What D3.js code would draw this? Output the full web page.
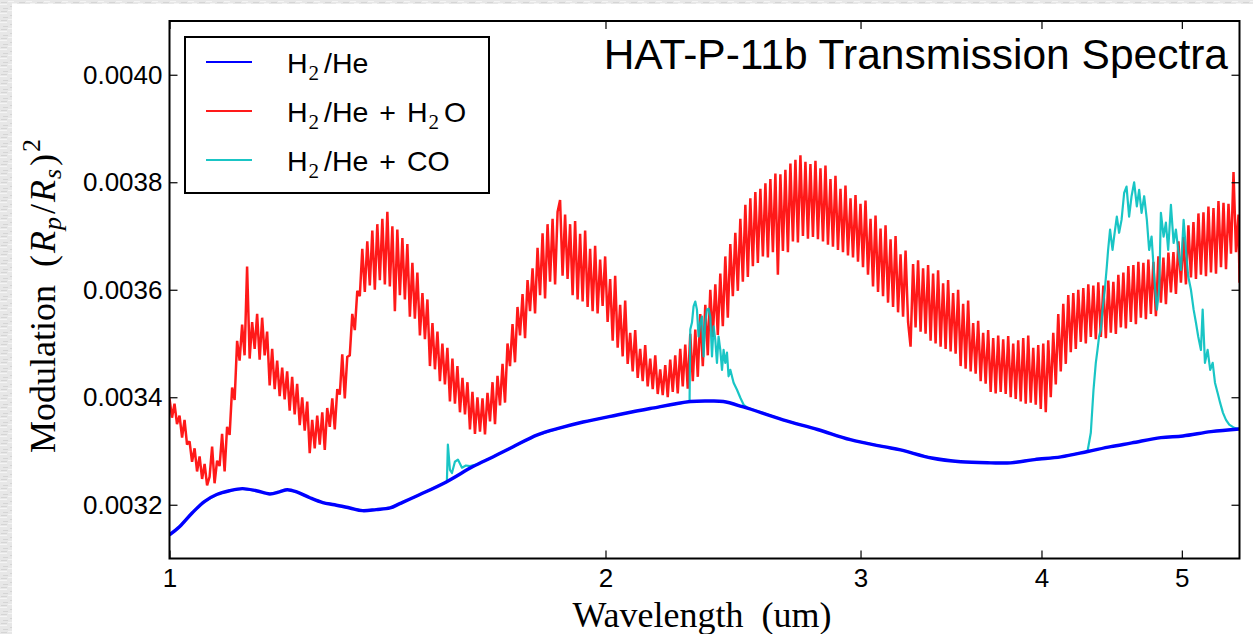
<!DOCTYPE html>
<html>
<head>
<meta charset="utf-8">
<script src="https://cdn.jsdelivr.net/npm/d3@7"></script>
<style>
  html, body { margin: 0; padding: 0; background: #ffffff; }
  svg { display: block; }
  text { white-space: pre; }
</style>
</head>
<body>
<svg id="chart" width="1253" height="634"></svg>
<script>
// ---- Data -------------------------------------------------------------
const wavelengthTicks = [1, 2, 3, 4, 5];
const depthTicks = [0.0032, 0.0034, 0.0036, 0.0038, 0.0040];
const titleText = "HAT-P-11b Transmission Spectra";

// Clear H2/He atmosphere (smooth continuum)
const h2heWave = [1.000, 1.016, 1.037, 1.057, 1.078, 1.100, 1.123, 1.148, 1.173, 1.191,
  1.206, 1.224, 1.250, 1.276, 1.300, 1.332, 1.359, 1.389, 1.420, 1.442,
  1.489, 1.554, 1.620, 1.672, 1.727, 1.795, 1.861, 1.930, 2.037, 2.147,
  2.289, 2.363, 2.412, 2.490, 2.652, 2.802, 2.952, 3.112, 3.197, 3.359,
  3.518, 3.690, 3.809, 3.956, 4.125, 4.305, 4.466, 4.618, 4.836, 5.009,
  5.237, 5.480];
const h2heDepth = [0.003144, 0.003159, 0.003185, 0.003206, 0.003219, 0.003226, 0.003230, 0.003226, 0.003220, 0.003224,
  0.003228, 0.003224, 0.003213, 0.003204, 0.003200, 0.003194, 0.003189, 0.003191, 0.003194, 0.003202,
  0.003219, 0.003243, 0.003271, 0.003289, 0.003308, 0.003330, 0.003343, 0.003354, 0.003367, 0.003379,
  0.003392, 0.003393, 0.003392, 0.003382, 0.003358, 0.003340, 0.003321, 0.003308, 0.003302, 0.003287,
  0.003280, 0.003278, 0.003278, 0.003284, 0.003289, 0.003299, 0.003308, 0.003315, 0.003325, 0.003328,
  0.003336, 0.003341];

// H2/He + H2O (high resolution spectrum)
const h2oWave = [
  1.0000, 1.0040, 1.0080, 1.0120, 1.0161, 1.0202, 1.0242, 1.0283, 1.0324, 1.0365, 1.0407, 1.0448,
  1.0490, 1.0532, 1.0574, 1.0616, 1.0658, 1.0701, 1.0743, 1.0786, 1.0829, 1.0872, 1.0916, 1.0959,
  1.1003, 1.1047, 1.1091, 1.1135, 1.1179, 1.1224, 1.1268, 1.1313, 1.1359, 1.1404, 1.1450, 1.1495,
  1.1541, 1.1587, 1.1633, 1.1679, 1.1726, 1.1773, 1.1820, 1.1867, 1.1914, 1.1962, 1.2009, 1.2057,
  1.2105, 1.2153, 1.2202, 1.2250, 1.2300, 1.2349, 1.2398, 1.2448, 1.2497, 1.2547, 1.2597, 1.2647,
  1.2698, 1.2749, 1.2800, 1.2850, 1.2902, 1.2954, 1.3005, 1.3057, 1.3109, 1.3161, 1.3214, 1.3266,
  1.3319, 1.3372, 1.3426, 1.3479, 1.3533, 1.3587, 1.3641, 1.3695, 1.3750, 1.3805, 1.3860, 1.3915,
  1.3971, 1.4027, 1.4083, 1.4139, 1.4195, 1.4252, 1.4309, 1.4365, 1.4423, 1.4481, 1.4538, 1.4596,
  1.4654, 1.4713, 1.4771, 1.4830, 1.4890, 1.4950, 1.5009, 1.5069, 1.5129, 1.5190, 1.5250, 1.5311,
  1.5371, 1.5432, 1.5494, 1.5555, 1.5618, 1.5680, 1.5743, 1.5805, 1.5869, 1.5932, 1.5996, 1.6059,
  1.6123, 1.6187, 1.6252, 1.6316, 1.6382, 1.6448, 1.6513, 1.6579, 1.6645, 1.6712, 1.6778, 1.6845,
  1.6912, 1.6980, 1.7047, 1.7115, 1.7183, 1.7252, 1.7320, 1.7389, 1.7459, 1.7529, 1.7599, 1.7669,
  1.7739, 1.7810, 1.7881, 1.7952, 1.8024, 1.8096, 1.8168, 1.8240, 1.8313, 1.8386, 1.8460, 1.8533,
  1.8607, 1.8681, 1.8756, 1.8830, 1.8906, 1.8982, 1.9057, 1.9133, 1.9209, 1.9286, 1.9363, 1.9440,
  1.9517, 1.9595, 1.9673, 1.9751, 1.9830, 1.9909, 1.9989, 2.0068, 2.0149, 2.0230, 2.0310, 2.0391,
  2.0472, 2.0554, 2.0636, 2.0718, 2.0801, 2.0884, 2.0967, 2.1051, 2.1134, 2.1219, 2.1303, 2.1388,
  2.1474, 2.1560, 2.1646, 2.1732, 2.1818, 2.1905, 2.1993, 2.2080, 2.2168, 2.2257, 2.2345, 2.2434,
  2.2524, 2.2614, 2.2704, 2.2794, 2.2886, 2.2978, 2.3069, 2.3161, 2.3253, 2.3346, 2.3439, 2.3532,
  2.3626, 2.3721, 2.3815, 2.3910, 2.4005, 2.4101, 2.4197, 2.4293, 2.4390, 2.4488, 2.4585, 2.4683,
  2.4782, 2.4881, 2.4980, 2.5079, 2.5179, 2.5280, 2.5380, 2.5481, 2.5584, 2.5686, 2.5789, 2.5891,
  2.5994, 2.6098, 2.6202, 2.6306, 2.6411, 2.6517, 2.6622, 2.6728, 2.6835, 2.6942, 2.7050, 2.7157,
  2.7266, 2.7375, 2.7484, 2.7593, 2.7703, 2.7814, 2.7925, 2.8035, 2.8148, 2.8261, 2.8373, 2.8486,
  2.8599, 2.8713, 2.8828, 2.8942, 2.9058, 2.9174, 2.9290, 2.9407, 2.9525, 2.9643, 2.9761, 2.9879,
  2.9998, 3.0118, 3.0238, 3.0358, 3.0480, 3.0602, 3.0724, 3.0846, 3.0969, 3.1093, 3.1217, 3.1341,
  3.1466, 3.1592, 3.1718, 3.1844, 3.1971, 3.2099, 3.2227, 3.2355, 3.2484, 3.2614, 3.2744, 3.2874,
  3.3005, 3.3137, 3.3269, 3.3401, 3.3535, 3.3669, 3.3803, 3.3937, 3.4073, 3.4209, 3.4346, 3.4482,
  3.4620, 3.4758, 3.4897, 3.5035, 3.5175, 3.5316, 3.5456, 3.5597, 3.5740, 3.5883, 3.6026, 3.6169,
  3.6313, 3.6458, 3.6604, 3.6749, 3.6896, 3.7044, 3.7191, 3.7339, 3.7488, 3.7638, 3.7788, 3.7938,
  3.8090, 3.8242, 3.8395, 3.8547, 3.8701, 3.8856, 3.9011, 3.9165, 3.9322, 3.9479, 3.9637, 3.9794,
  3.9953, 4.0113, 4.0273, 4.0432, 4.0594, 4.0756, 4.0919, 4.1081, 4.1245, 4.1410, 4.1575, 4.1740,
  4.1907, 4.2075, 4.2242, 4.2410, 4.2580, 4.2750, 4.2921, 4.3091, 4.3263, 4.3436, 4.3609, 4.3782,
  4.3957, 4.4133, 4.4309, 4.4484, 4.4663, 4.4842, 4.5020, 4.5199, 4.5379, 4.5561, 4.5742, 4.5924,
  4.6107, 4.6291, 4.6476, 4.6660, 4.6847, 4.7034, 4.7222, 4.7409, 4.7599, 4.7789, 4.7980, 4.8170,
  4.8363, 4.8556, 4.8750, 4.8943, 4.9139, 4.9336, 4.9532, 4.9729, 4.9927, 5.0127, 5.0326, 5.0526,
  5.0728, 5.0931, 5.1134, 5.1337, 5.1542, 5.1748, 5.1954, 5.2160, 5.2370, 5.2579, 5.2789, 5.2998,
  5.3210, 5.3423, 5.3636, 5.3849, 5.4064, 5.4280, 5.4497, 5.4713, 5.4800];
const h2oDepth = [
  0.003398, 0.003362, 0.003388, 0.003350, 0.003366, 0.003325, 0.003358, 0.003312, 0.003318, 0.003280, 0.003305, 0.003262,
  0.003290, 0.003248, 0.003276, 0.003236, 0.003252, 0.003308, 0.003240, 0.003282, 0.003272, 0.003332, 0.003262, 0.003345,
  0.003330, 0.003418, 0.003395, 0.003505, 0.003468, 0.003535, 0.003478, 0.003643, 0.003472, 0.003540, 0.003490, 0.003555,
  0.003470, 0.003548, 0.003478, 0.003522, 0.003422, 0.003490, 0.003415, 0.003468, 0.003402, 0.003455, 0.003396, 0.003448,
  0.003375, 0.003438, 0.003368, 0.003425, 0.003348, 0.003400, 0.003338, 0.003392, 0.003296, 0.003358, 0.003305, 0.003366,
  0.003312, 0.003372, 0.003302, 0.003380, 0.003345, 0.003398, 0.003340, 0.003415, 0.003405, 0.003480, 0.003398, 0.003475,
  0.003478, 0.003555, 0.003525, 0.003598, 0.003588, 0.003676, 0.003596, 0.003690, 0.003608, 0.003710, 0.003600, 0.003722,
  0.003618, 0.003732, 0.003610, 0.003745, 0.003606, 0.003718, 0.003560, 0.003712, 0.003590, 0.003696, 0.003582, 0.003685,
  0.003550, 0.003650, 0.003546, 0.003632, 0.003515, 0.003594, 0.003508, 0.003582, 0.003458, 0.003538, 0.003452, 0.003522,
  0.003430, 0.003500, 0.003424, 0.003492, 0.003392, 0.003472, 0.003388, 0.003458, 0.003372, 0.003436, 0.003368, 0.003428,
  0.003340, 0.003410, 0.003332, 0.003400, 0.003336, 0.003398, 0.003331, 0.003408, 0.003355, 0.003428, 0.003350, 0.003440,
  0.003385, 0.003462, 0.003390, 0.003500, 0.003458, 0.003536, 0.003465, 0.003568, 0.003515, 0.003592, 0.003510, 0.003618,
  0.003560, 0.003640, 0.003556, 0.003678, 0.003590, 0.003705, 0.003584, 0.003722, 0.003615, 0.003732, 0.003610, 0.003745,
  0.003767, 0.003626, 0.003740, 0.003620, 0.003722, 0.003590, 0.003728, 0.003582, 0.003704, 0.003578, 0.003710, 0.003568,
  0.003676, 0.003560, 0.003682, 0.003556, 0.003656, 0.003570, 0.003662, 0.003540, 0.003620, 0.003505, 0.003626, 0.003492,
  0.003572, 0.003476, 0.003580, 0.003462, 0.003520, 0.003448, 0.003525, 0.003436, 0.003490, 0.003430, 0.003497, 0.003420,
  0.003472, 0.003415, 0.003478, 0.003406, 0.003452, 0.003404, 0.003460, 0.003400, 0.003470, 0.003410, 0.003478, 0.003407,
  0.003490, 0.003420, 0.003498, 0.003416, 0.003518, 0.003430, 0.003526, 0.003438, 0.003555, 0.003458, 0.003572, 0.003478,
  0.003600, 0.003512, 0.003610, 0.003516, 0.003630, 0.003532, 0.003662, 0.003548, 0.003685, 0.003588, 0.003706, 0.003598,
  0.003732, 0.003615, 0.003758, 0.003624, 0.003770, 0.003644, 0.003782, 0.003650, 0.003788, 0.003662, 0.003798, 0.003660,
  0.003806, 0.003670, 0.003816, 0.003628, 0.003815, 0.003672, 0.003823, 0.003670, 0.003835, 0.003690, 0.003842, 0.003688,
  0.003850, 0.003700, 0.003838, 0.003695, 0.003834, 0.003698, 0.003840, 0.003694, 0.003826, 0.003690, 0.003831, 0.003684,
  0.003806, 0.003680, 0.003812, 0.003674, 0.003788, 0.003670, 0.003794, 0.003664, 0.003770, 0.003660, 0.003776, 0.003652,
  0.003760, 0.003642, 0.003766, 0.003628, 0.003732, 0.003606, 0.003738, 0.003596, 0.003714, 0.003588, 0.003720, 0.003576,
  0.003694, 0.003568, 0.003700, 0.003558, 0.003666, 0.003550, 0.003673, 0.003540, 0.003494, 0.003648, 0.003530, 0.003655,
  0.003522, 0.003640, 0.003518, 0.003646, 0.003505, 0.003630, 0.003500, 0.003636, 0.003494, 0.003612, 0.003490, 0.003618,
  0.003485, 0.003594, 0.003481, 0.003600, 0.003458, 0.003574, 0.003453, 0.003580, 0.003448, 0.003538, 0.003444, 0.003542,
  0.003430, 0.003520, 0.003425, 0.003525, 0.003410, 0.003510, 0.003407, 0.003515, 0.003410, 0.003508, 0.003406, 0.003514,
  0.003400, 0.003500, 0.003397, 0.003506, 0.003392, 0.003510, 0.003388, 0.003515, 0.003390, 0.003492, 0.003386, 0.003497,
  0.003378, 0.003500, 0.003372, 0.003506, 0.003400, 0.003520, 0.003424, 0.003555, 0.003448, 0.003574, 0.003462, 0.003590,
  0.003484, 0.003594, 0.003490, 0.003600, 0.003503, 0.003603, 0.003500, 0.003610, 0.003512, 0.003608, 0.003508, 0.003614,
  0.003512, 0.003608, 0.003510, 0.003617, 0.003520, 0.003615, 0.003518, 0.003628, 0.003530, 0.003632, 0.003528, 0.003644,
  0.003540, 0.003646, 0.003536, 0.003652, 0.003548, 0.003650, 0.003545, 0.003656, 0.003555, 0.003652, 0.003551, 0.003662,
  0.003576, 0.003660, 0.003573, 0.003669, 0.003595, 0.003670, 0.003592, 0.003690, 0.003613, 0.003698, 0.003610, 0.003720,
  0.003623, 0.003726, 0.003620, 0.003742, 0.003628, 0.003744, 0.003625, 0.003755, 0.003632, 0.003752, 0.003630, 0.003765,
  0.003642, 0.003762, 0.003638, 0.003760, 0.003667, 0.003819, 0.003670, 0.003740, 0.003613];

// H2/He + CO (follows the continuum outside the CO bands)
const coWave = [1.000, 1.016, 1.037, 1.057, 1.078, 1.100, 1.123, 1.148, 1.173, 1.191,
  1.206, 1.224, 1.250, 1.276, 1.300, 1.332, 1.359, 1.389, 1.420, 1.442, 1.489,
  1.5543, 1.5567, 1.5618, 1.5668, 1.5742, 1.5817, 1.5920, 1.6021, 1.6123, 1.6303,
  1.672, 1.727, 1.795, 1.861, 1.930, 2.037, 2.147,
  2.2860, 2.2886, 2.2948, 2.3006, 2.3068, 2.3130, 2.3189, 2.3253, 2.3316, 2.3375,
  2.3438, 2.3501, 2.3561, 2.3626, 2.3690, 2.3750, 2.3814, 2.3878, 2.3939, 2.4005,
  2.4070, 2.4131, 2.4196, 2.4261, 2.4323, 2.4390, 2.4518, 2.4650, 2.4782, 2.4912, 2.5047,
  2.652, 2.802, 2.952, 3.112, 3.197, 3.359, 3.518, 3.690, 3.809, 3.956, 4.125,
  4.3035, 4.3263, 4.3449, 4.3608, 4.3725, 4.3835, 4.3957, 4.4076, 4.4237, 4.4377,
  4.4469, 4.4608, 4.4784, 4.4898, 4.5090, 4.5254, 4.5430, 4.5618, 4.5792, 4.5979,
  4.6159, 4.6350, 4.6548, 4.6717, 4.6899, 4.7093, 4.7295, 4.7467, 4.7652, 4.7849,
  4.8054, 4.8229, 4.8363, 4.8571, 4.8748, 4.8926, 4.9139, 4.9350, 4.9531, 4.9711,
  4.9927, 5.0142, 5.0325, 5.0508, 5.0728, 5.0946, 5.1132, 5.1318, 5.1542, 5.1682,
  5.1871, 5.2092, 5.2306, 5.2512, 5.2704, 5.2929, 5.3146, 5.3380, 5.3634, 5.3914,
  5.4348, 5.4779];
const coDepth = [0.003144, 0.003159, 0.003185, 0.003206, 0.003219, 0.003226, 0.003230, 0.003226, 0.003220, 0.003224,
  0.003228, 0.003224, 0.003213, 0.003204, 0.003200, 0.003194, 0.003189, 0.003191, 0.003194, 0.003202, 0.003219,
  0.003243, 0.003312, 0.003265, 0.003259, 0.003280, 0.003284, 0.003269, 0.003273, 0.003272, 0.003275,
  0.003289, 0.003308, 0.003330, 0.003343, 0.003354, 0.003367, 0.003379,
  0.003392, 0.003526, 0.003539, 0.003569, 0.003578, 0.003563, 0.003513, 0.003539, 0.003550, 0.003476,
  0.003539, 0.003563, 0.003565, 0.003550, 0.003476, 0.003532, 0.003507, 0.003464, 0.003513, 0.003488,
  0.003451, 0.003488, 0.003464, 0.003483, 0.003439, 0.003451, 0.003427, 0.003414, 0.003399, 0.003386, 0.003381,
  0.003358, 0.003340, 0.003321, 0.003308, 0.003302, 0.003287, 0.003280, 0.003278, 0.003278, 0.003284, 0.003289,
  0.003299, 0.003334, 0.003414, 0.003464, 0.003488, 0.003513, 0.003526, 0.003563, 0.003600, 0.003643,
  0.003674, 0.003712, 0.003674, 0.003699, 0.003736, 0.003706, 0.003730, 0.003780, 0.003792, 0.003736,
  0.003774, 0.003800, 0.003755, 0.003786, 0.003743, 0.003774, 0.003730, 0.003674, 0.003699, 0.003625,
  0.003563, 0.003600, 0.003743, 0.003699, 0.003725, 0.003674, 0.003758, 0.003687, 0.003712, 0.003674,
  0.003637, 0.003730, 0.003674, 0.003625, 0.003600, 0.003563, 0.003539, 0.003513, 0.003488, 0.003563,
  0.003464, 0.003488, 0.003451, 0.003464, 0.003427, 0.003408, 0.003389, 0.003371, 0.003358, 0.003349,
  0.003343, 0.003341];

const legendRows = [
  { color: "#0000ff", parts: [["H"], ["2", "sub"], ["/He"]] },
  { color: "#ff1a1a", parts: [["H"], ["2", "sub"], ["/He + H"], ["2", "sub"], ["O"]] },
  { color: "#1ac5c5", parts: [["H"], ["2", "sub"], ["/He + CO"]] }
];

// ---- Layout -----------------------------------------------------------
const W = 1253, H = 634;
const plot = { left: 169.5, right: 1239.5, top: 21, bottom: 558.5 };
const SANS = "'Liberation Sans', Arial, Helvetica, sans-serif";
const SERIF = "'Liberation Serif', 'Times New Roman', serif";

const svg = d3.select("#chart");
const defs = svg.append("defs");

// paper-like strip along the left and top edges
const pat = defs.append("pattern").attr("id", "paper")
  .attr("patternUnits", "userSpaceOnUse").attr("width", 18).attr("height", 9);
pat.append("rect").attr("width", 18).attr("height", 9).attr("fill", "#e7e7e7");
pat.append("path").attr("d", "M1 2.5h6M10 6.5h7M3 8.5h5")
  .attr("stroke", "#d5d5d5").attr("stroke-width", 1);
pat.append("path").attr("d", "M8 1.5h6M0 4.5h7M12 3.5h5")
  .attr("stroke", "#f4f4f4").attr("stroke-width", 1);
svg.append("rect").attr("x", 0).attr("y", 0).attr("width", W).attr("height", H).attr("fill", "#ffffff");
svg.append("rect").attr("x", 0).attr("y", 0).attr("width", 12).attr("height", H).attr("fill", "url(#paper)");
svg.append("rect").attr("x", 0).attr("y", 0).attr("width", W).attr("height", 4).attr("fill", "url(#paper)");

defs.append("clipPath").attr("id", "plotClip").append("rect")
  .attr("x", plot.left).attr("y", plot.top)
  .attr("width", plot.right - plot.left).attr("height", plot.bottom - plot.top);

const x = d3.scaleLog().domain([1, 5.48]).range([plot.left, plot.right]);
const y = d3.scaleLinear().domain([0.0031, 0.0041]).range([plot.bottom, plot.top]);

svg.append("rect").attr("x", plot.left).attr("y", plot.top)
  .attr("width", plot.right - plot.left).attr("height", plot.bottom - plot.top)
  .attr("fill", "#ffffff");

// ---- Spectra ----------------------------------------------------------
const toPoints = (ws, vs) => ws.map((w, i) => [w, vs[i]]);
const line = d3.line().x(d => x(d[0])).y(d => y(d[1]));
const smooth = d3.line().x(d => x(d[0])).y(d => y(d[1])).curve(d3.curveCatmullRom.alpha(0.5));

const lines = svg.append("g").attr("clip-path", "url(#plotClip)");
lines.append("path").datum(toPoints(h2oWave, h2oDepth))
  .attr("d", line).attr("fill", "none")
  .attr("stroke", "#ff0000").attr("stroke-opacity", 0.9)
  .attr("stroke-width", 2.5).attr("stroke-linejoin", "miter").attr("stroke-miterlimit", 2);
lines.append("path").datum(toPoints(coWave, coDepth))
  .attr("d", line).attr("fill", "none")
  .attr("stroke", "#00bfbf").attr("stroke-opacity", 0.9)
  .attr("stroke-width", 2.2).attr("stroke-linejoin", "round");
lines.append("path").datum(toPoints(h2heWave, h2heDepth))
  .attr("d", smooth).attr("fill", "none")
  .attr("stroke", "#0000ff").attr("stroke-width", 3.4);

// ---- Axes -------------------------------------------------------------
const tickLen = 8;
function styleAxis(g, showLabels) {
  g.select(".domain").remove();
  g.selectAll(".tick line").attr("stroke", "#000").attr("stroke-width", 1.2);
  g.selectAll(".tick text").attr("fill", "#000")
    .style("font-family", SANS).style("font-size", "26px");
  if (!showLabels) g.selectAll(".tick text").remove();
}
svg.append("g").attr("transform", `translate(0,${plot.bottom})`)
  .call(d3.axisBottom(x).tickValues(wavelengthTicks).tickFormat(d3.format("d"))
    .tickSize(-tickLen).tickPadding(10))
  .call(g => styleAxis(g, true));
svg.append("g").attr("transform", `translate(0,${plot.top})`)
  .call(d3.axisTop(x).tickValues(wavelengthTicks).tickSize(-tickLen))
  .call(g => styleAxis(g, false));
svg.append("g").attr("transform", `translate(${plot.left},0)`)
  .call(d3.axisLeft(y).tickValues(depthTicks).tickFormat(d3.format(".4f"))
    .tickSize(-tickLen).tickPadding(7))
  .call(g => styleAxis(g, true));
svg.append("g").attr("transform", `translate(${plot.right},0)`)
  .call(d3.axisRight(y).tickValues(depthTicks).tickSize(-tickLen))
  .call(g => styleAxis(g, false));

// frame
svg.append("rect").attr("x", plot.left).attr("y", plot.top)
  .attr("width", plot.right - plot.left).attr("height", plot.bottom - plot.top)
  .attr("fill", "none").attr("stroke", "#000").attr("stroke-width", 2);

// ---- Title ------------------------------------------------------------
svg.append("text").attr("x", 1228).attr("y", 69)
  .attr("text-anchor", "end").style("font-family", SANS).style("font-size", "42.5px")
  .attr("fill", "#000").text(titleText);

// ---- Axis labels ------------------------------------------------------
svg.append("text").attr("x", 702).attr("y", 627)
  .attr("text-anchor", "middle").style("font-family", SERIF).style("font-size", "36px")
  .attr("fill", "#000").text("Wavelength  (um)");

const yl = svg.append("text")
  .attr("transform", "translate(55,296) rotate(-90)")
  .attr("text-anchor", "middle").style("font-family", SERIF).style("font-size", "36px")
  .attr("fill", "#000");
yl.append("tspan").text("Modulation  (");
yl.append("tspan").style("font-style", "italic").attr("dx", 2).text("R");
yl.append("tspan").style("font-style", "italic").style("font-size", "26px").attr("dy", 6).attr("dx", 1).text("p");
yl.append("tspan").attr("dy", -6).attr("dx", 3).text("/");
yl.append("tspan").style("font-style", "italic").attr("dx", 2).text("R");
yl.append("tspan").style("font-style", "italic").style("font-size", "26px").attr("dy", 6).attr("dx", 1).text("s");
yl.append("tspan").attr("dy", -6).attr("dx", 3).text(")");
yl.append("tspan").style("font-size", "26px").attr("dy", -15).attr("dx", 2).text("2");

// ---- Legend -----------------------------------------------------------
const lg = svg.append("g");
lg.append("rect").attr("x", 185).attr("y", 37).attr("width", 304).attr("height", 156)
  .attr("fill", "#ffffff").attr("stroke", "#000").attr("stroke-width", 2);
legendRows.forEach((row, i) => {
  const cy = 62 + i * 49;
  lg.append("line").attr("x1", 206).attr("x2", 252).attr("y1", cy).attr("y2", cy)
    .attr("stroke", row.color).attr("stroke-width", 2);
  const t = lg.append("text").attr("x", 287).attr("y", cy + 11)
    .style("font-family", SANS).style("font-size", "28.5px").style("word-spacing", "3px")
    .attr("fill", "#000");
  let shifted = false;
  row.parts.forEach(([s, kind]) => {
    const ts = t.append("tspan").text(s);
    if (kind === "sub") {
      ts.style("font-family", SERIF).style("font-size", "21px").attr("dy", 7).attr("dx", 1);
      shifted = true;
    } else if (shifted) {
      ts.attr("dy", -7).attr("dx", 5);
      shifted = false;
    }
  });
});
</script>
</body>
</html>
